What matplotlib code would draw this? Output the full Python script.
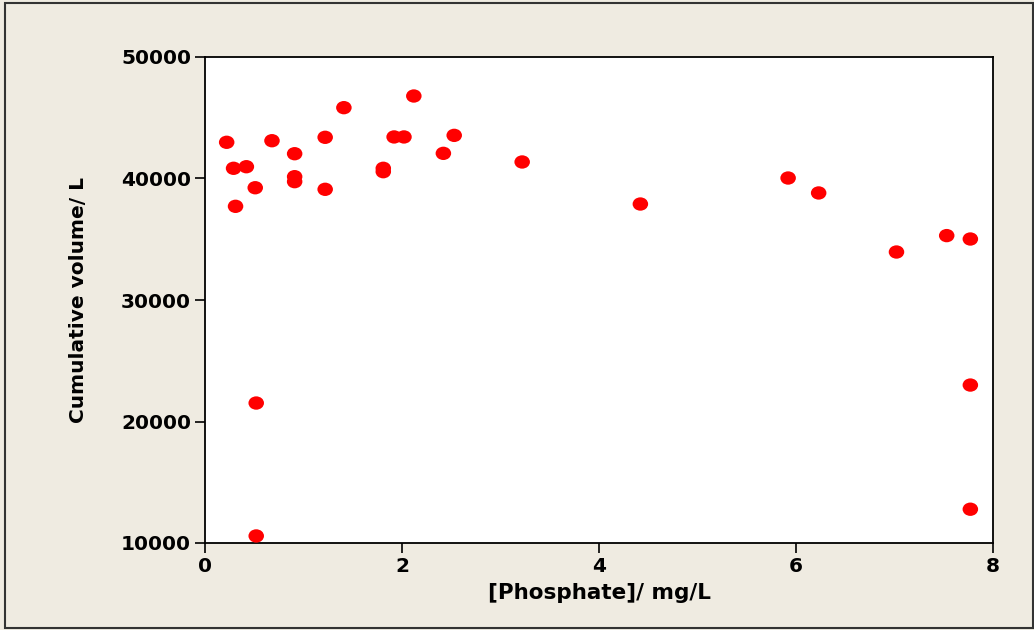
import numpy as np
import matplotlib
matplotlib.use('Agg')
from matplotlib import pyplot as plt
from matplotlib.path import Path
from matplotlib.transforms import Affine2D
from matplotlib.patches import Rectangle

# data
phosphate = [0.22, 0.29, 0.42, 0.31, 0.51, 0.68, 0.91, 0.91, 0.91, 1.22, 1.22,
             1.41, 1.81, 1.81, 1.92, 2.02, 2.12, 2.42, 2.53, 0.52, 0.52, 3.22,
             4.42, 5.92, 6.23, 7.02, 7.53, 7.77, 7.77, 7.77]
volume = [42980, 40840, 40970, 37710, 39240, 43110, 42040, 40150, 39740, 43390,
          39110, 45830, 40840, 40560, 43420, 43420, 46790, 42070, 43550, 21520,
          10580, 41360, 37900, 40040, 38810, 33950, 35300, 35020, 23000, 12780]

xticks = [0, 2, 4, 6, 8]
yticks = [10000, 20000, 30000, 40000, 50000]

bg = '#efebe1'

fig = plt.figure(figsize=(10.34, 6.3), dpi=100, facecolor=bg)
ax = fig.add_axes([205 / 1034, 1 - 543 / 630, 788 / 1034, 486 / 630])
ax.set_facecolor('white')

# slightly flattened dot, like the original
ell = Path.unit_circle().transformed(Affine2D().scale(1.0, 0.86))
ax.scatter(phosphate, volume, s=125, marker=ell, color='#ff0000', edgecolors='none', zorder=3)

ax.set_xlim(0, 8)
ax.set_ylim(10000, 50000)
ax.set_xticks(xticks)
ax.set_yticks(yticks)
ax.tick_params(direction='out', length=7, width=1.2, pad=3, labelsize=14.5)
for lab in ax.get_xticklabels() + ax.get_yticklabels():
    lab.set_fontweight('bold')
for sp in ax.spines.values():
    sp.set_linewidth(1.3)

ax.set_xlabel('[Phosphate]/ mg/L', fontsize=15.5, fontweight='bold', labelpad=5)
ax.set_ylabel('Cumulative volume/ L', fontsize=14.5, fontweight='bold', labelpad=24)

fig.patches.append(Rectangle((5 / 1034, 2 / 630), 1 - 6 / 1034, 1 - 5 / 630,
                             transform=fig.transFigure, fill=False,
                             edgecolor='#333333', linewidth=1.5))

fig.savefig('out.png', dpi=100, facecolor=bg)
